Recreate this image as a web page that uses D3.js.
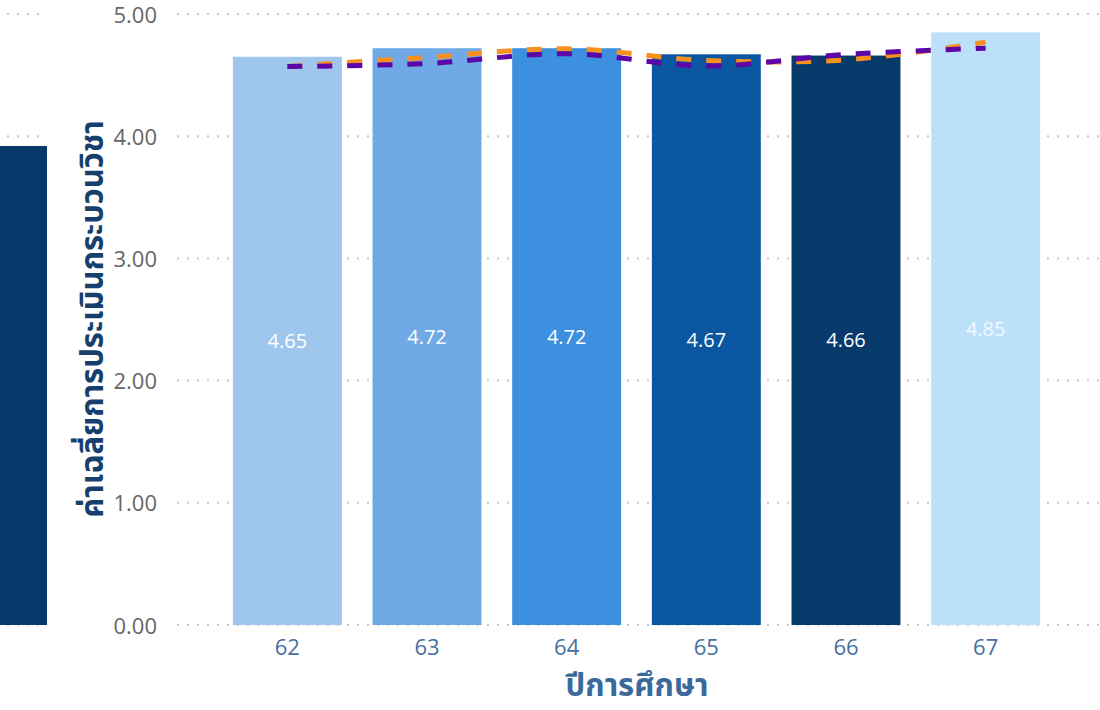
<!DOCTYPE html>
<html>
<head>
<meta charset="utf-8">
<script src="https://cdn.jsdelivr.net/npm/d3@7"></script>
<style>
  html, body { margin: 0; padding: 0; background: #fff; }
  svg { display: block; }
  text { font-family: "Open Sans", "Noto Sans", "Noto Sans Thai", sans-serif; }
</style>
</head>
<body>
<svg id="chart" width="1100" height="710"></svg>
<script>
// ---- data ----
const years = ["62", "63", "64", "65", "66", "67"];
const averages = [4.65, 4.72, 4.72, 4.67, 4.66, 4.85];
const barColors = ["#9fc7ee", "#6fa9e6", "#3d8fdf", "#0a56a0", "#08396b", "#bde0fa"];
const trendOrange = [4.57, 4.645, 4.715, 4.62, 4.625, 4.77];
const trendPurple = [4.57, 4.595, 4.675, 4.575, 4.67, 4.72];
const yTicks = [0, 1, 2, 3, 4, 5];
const leftPanelValue = [3.92];
const yTitle = "ค่าเฉลี่ยการประเมินกระบวนวิชา";
const xTitle = "ปีการศึกษา";

const svg = d3.select("#chart");

const y = d3.scaleLinear().domain([0, 5]).range([625, 14]);
const x = d3.scaleBand().domain(years).range([177, 1096]).paddingInner(0.22).paddingOuter(0.4);

// left (cut-off) panel
const lp = svg.append("g");
lp.selectAll("line.lg").data(yTicks).join("line")
  .attr("x1", 7).attr("x2", 45)
  .attr("y1", d => y(d)).attr("y2", d => y(d))
  .attr("stroke", "#c8c8c8").attr("stroke-width", 2).attr("stroke-dasharray", "2 8");
lp.selectAll("rect").data(leftPanelValue).join("rect")
  .attr("x", 0).attr("width", 47)
  .attr("y", d => y(d)).attr("height", d => y(0) - y(d))
  .attr("fill", "#08396b");

// grid lines
svg.append("g").selectAll("line").data(yTicks).join("line")
  .attr("x1", 177).attr("x2", 1100)
  .attr("y1", d => y(d)).attr("y2", d => y(d))
  .attr("stroke", "#c8c8c8").attr("stroke-width", 2).attr("stroke-dasharray", "2 8");

// y axis
const yAxis = d3.axisLeft(y).tickValues(yTicks).tickFormat(d3.format(".2f")).tickSize(0).tickPadding(0);
const gy = svg.append("g").attr("transform", "translate(157,0)").call(yAxis);
gy.select(".domain").remove();
gy.selectAll("text").attr("fill", "#666").style("font-size", "22px").attr("dy", "0.37em");

// x axis
const xAxis = d3.axisBottom(x).tickSize(0).tickPadding(0);
const gx = svg.append("g").attr("transform", "translate(0,639)").call(xAxis);
gx.select(".domain").remove();
gx.selectAll("text").attr("fill", "#44709f").style("font-size", "22px").attr("dy", "0.71em");

// bars
const data = years.map((yr, i) => ({ yr, v: averages[i], c: barColors[i] }));
svg.append("g").selectAll("rect").data(data).join("rect")
  .attr("x", d => x(d.yr)).attr("width", x.bandwidth())
  .attr("y", d => y(d.v)).attr("height", d => y(0) - y(d.v))
  .attr("fill", d => d.c);

// bar labels
svg.append("g").selectAll("text").data(data).join("text")
  .attr("x", d => x(d.yr) + x.bandwidth() / 2)
  .attr("y", d => (y(d.v) + y(0)) / 2)
  .attr("text-anchor", "middle").attr("dy", "0.35em")
  .attr("fill", (d, i) => i === 5 ? "#f2f8fe" : "#ffffff")
  .style("font-size", "20px")
  .text(d => d.v.toFixed(2));

// trend lines
const lineGen = d3.line()
  .x((d, i) => x(years[i]) + x.bandwidth() / 2)
  .y(d => y(d))
  .curve(d3.curveCatmullRom.alpha(0.5));
svg.append("path").datum(trendOrange).attr("d", lineGen)
  .attr("fill", "none").attr("stroke", "#f7901e").attr("stroke-width", 5)
  .attr("stroke-dasharray", "15 15");
svg.append("path").datum(trendPurple).attr("d", lineGen)
  .attr("fill", "none").attr("stroke", "#5c06a8").attr("stroke-width", 5)
  .attr("stroke-dasharray", "15 15");

// axis titles
svg.append("text")
  .attr("transform", "translate(92,319) rotate(-90)")
  .attr("text-anchor", "middle").attr("dy", "0.35em")
  .attr("fill", "#163f6e").style("font-size", "31px").style("font-weight", "bold")
  .text(yTitle);
svg.append("text")
  .attr("x", 637).attr("y", 685)
  .attr("text-anchor", "middle").attr("dy", "0.35em")
  .attr("fill", "#3a6a9c").style("font-size", "31px").style("font-weight", "bold")
  .text(xTitle);
</script>
</body>
</html>
